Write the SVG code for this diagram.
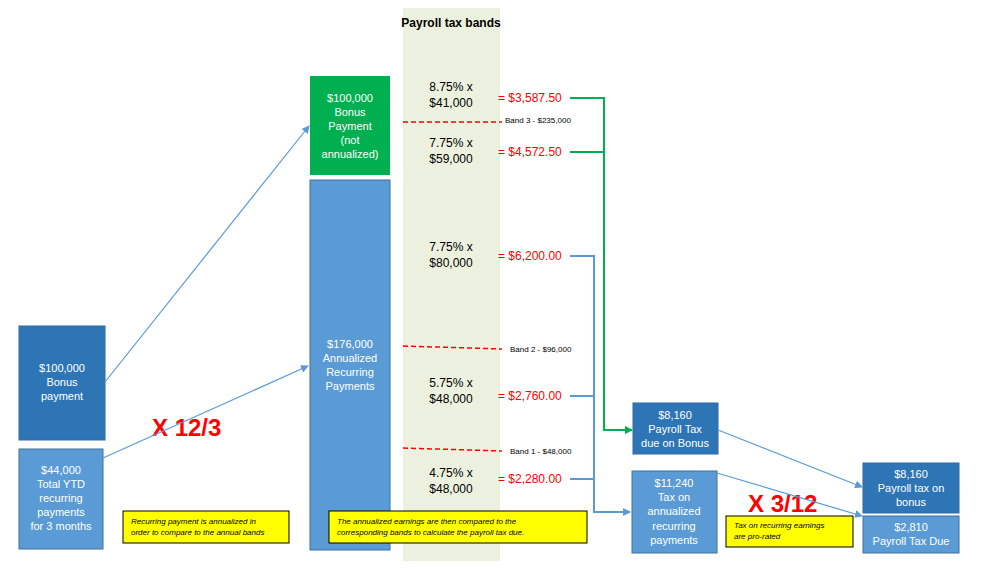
<svg xmlns="http://www.w3.org/2000/svg" width="991" height="569" viewBox="0 0 991 569">
<style>
text{font-family:"Liberation Sans",Arial,sans-serif;}
.w{fill:#fff;font-size:11px;text-anchor:middle}
.b{fill:#000;font-size:12px;text-anchor:middle}
.r{fill:#ff0000;font-size:12px}
.s{fill:#000;font-size:8px}
.n{fill:#000;font-size:8px;font-style:italic}
.note{fill:#ffff00;stroke:#000;stroke-width:1}
.dk{fill:#2e75b6;stroke:#2e6aa6;stroke-width:1}
.lt{fill:#5b9bd5;stroke:#41719c;stroke-width:1}
.dash{stroke:#ff0000;stroke-width:1.5;stroke-dasharray:5,3;fill:none}
.big{fill:#ff0000;font-size:24px;font-weight:bold}
</style>
<defs>
<marker id="ab" markerWidth="8" markerHeight="8" refX="7" refY="4" orient="auto" markerUnits="userSpaceOnUse"><path d="M0,0 L8,4 L0,8 z" fill="#5b9bd5"/></marker>
<marker id="ag" markerWidth="8" markerHeight="8" refX="7" refY="4" orient="auto" markerUnits="userSpaceOnUse"><path d="M0,0 L8,4 L0,8 z" fill="#00b050"/></marker>
</defs>
<rect width="991" height="569" fill="#fff"/>
<g id="bands">
<rect x="403" y="8" width="97" height="553" fill="#ebf1de"/>
<text x="451" y="27" style="font-size:12px;font-weight:bold;text-anchor:middle">Payroll tax bands</text>
<text class="b" x="451" y="91">8.75% x</text><text class="b" x="451" y="107">$41,000</text>
<text class="b" x="451" y="147">7.75% x</text><text class="b" x="451" y="163">$59,000</text>
<text class="b" x="451" y="251">7.75% x</text><text class="b" x="451" y="267">$80,000</text>
<text class="b" x="451" y="387">5.75% x</text><text class="b" x="451" y="403">$48,000</text>
<text class="b" x="451" y="477">4.75% x</text><text class="b" x="451" y="493">$48,000</text>
<text class="r" x="498" y="102">= $3,587.50</text>
<text class="r" x="498" y="156">= $4,572.50</text>
<text class="r" x="498" y="260">= $6,200.00</text>
<text class="r" x="498" y="400">= $2,760.00</text>
<text class="r" x="498" y="483">= $2,280.00</text>
<line class="dash" x1="403" y1="122" x2="502" y2="122"/>
<line class="dash" x1="403" y1="346" x2="502" y2="349"/>
<line class="dash" x1="403" y1="448" x2="502" y2="451"/>
<text class="s" x="505" y="123">Band 3 - $235,000</text>
<text class="s" x="510" y="352">Band 2 - $96,000</text>
<text class="s" x="510" y="454">Band 1 - $48,000</text>
</g>
<g id="bonus-payment"><rect class="dk" x="19" y="326" width="86" height="114"/>
<text class="w" x="62" y="372">$100,000</text><text class="w" x="62" y="386">Bonus</text><text class="w" x="62" y="400">payment</text></g>
<g id="ytd"><rect class="lt" x="19" y="449" width="84" height="100"/>
<text class="w" x="61" y="474">$44,000</text><text class="w" x="61" y="488">Total YTD</text><text class="w" x="61" y="502">recurring</text><text class="w" x="61" y="516">payments</text><text class="w" x="61" y="530">for 3 months</text></g>
<g id="bonus-na"><rect x="310" y="76" width="80" height="99" fill="#00b050"/>
<text class="w" x="350" y="102">$100,000</text><text class="w" x="350" y="116">Bonus</text><text class="w" x="350" y="130">Payment</text><text class="w" x="350" y="144">(not</text><text class="w" x="350" y="158">annualized)</text></g>
<g id="annualized"><rect class="lt" x="310" y="180" width="80" height="370"/>
<text class="w" x="350" y="348">$176,000</text><text class="w" x="350" y="362">Annualized</text><text class="w" x="350" y="376">Recurring</text><text class="w" x="350" y="390">Payments</text></g>
<g id="tax-bonus"><rect class="dk" x="633" y="403" width="85" height="51"/>
<text class="w" x="675" y="419">$8,160</text><text class="w" x="675" y="433">Payroll Tax</text><text class="w" x="675" y="447">due on Bonus</text></g>
<g id="tax-rec"><rect class="lt" x="632" y="471" width="85" height="82"/>
<text class="w" x="674" y="487">$11,240</text><text class="w" x="674" y="501">Tax on</text><text class="w" x="674" y="515">annualized</text><text class="w" x="674" y="530">recurring</text><text class="w" x="674" y="544">payments</text></g>
<g id="final-bonus"><rect class="dk" x="863" y="463" width="96" height="50"/>
<text class="w" x="911" y="478">$8,160</text><text class="w" x="911" y="492">Payroll tax on</text><text class="w" x="911" y="506">bonus</text></g>
<g id="final-due"><rect class="lt" x="863" y="516" width="96" height="37"/>
<text class="w" x="911" y="531">$2,810</text><text class="w" x="911" y="545">Payroll Tax Due</text></g>
<g id="labels">
<text class="big" x="152" y="436">X 12/3</text>
<text class="big" x="748" y="512">X 3/12</text>
<rect class="note" x="123" y="511" width="166" height="32"/>
<text class="n" x="131" y="524">Recurring payment is annualized in</text><text class="n" x="131" y="535">order to compare to the annual bands</text>
<rect class="note" x="329" y="511" width="258" height="32"/>
<text class="n" x="337" y="524">The annualized earnings are then compared to the</text><text class="n" x="337" y="535">corresponding bands to calculate the payroll tax due.</text>
<rect class="note" x="726" y="516" width="127" height="31"/>
<text class="n" x="734" y="528">Tax on recurring earnings</text><text class="n" x="734" y="539">are pro-rated</text>
</g>
<g id="connectors" fill="none">
<line x1="105" y1="382" x2="309" y2="126" stroke="#5b9bd5" stroke-width="1.2" marker-end="url(#ab)"/>
<line x1="103" y1="458" x2="308" y2="366" stroke="#5b9bd5" stroke-width="1.2" marker-end="url(#ab)"/>
<polyline points="570,98 604,98 604,430 632,430" stroke="#00b050" stroke-width="2" marker-end="url(#ag)"/>
<line x1="570" y1="152" x2="604" y2="152" stroke="#00b050" stroke-width="2"/>
<polyline points="570,256 594,256 594,512 630,512" stroke="#5b9bd5" stroke-width="2" marker-end="url(#ab)"/>
<line x1="570" y1="396" x2="594" y2="396" stroke="#5b9bd5" stroke-width="2"/>
<line x1="570" y1="479" x2="594" y2="479" stroke="#5b9bd5" stroke-width="2"/>
<line x1="718" y1="430" x2="862" y2="487" stroke="#5b9bd5" stroke-width="1.2" marker-end="url(#ab)"/>
<line x1="717" y1="473" x2="862" y2="516" stroke="#5b9bd5" stroke-width="1.2" marker-end="url(#ab)"/>
</g>
</svg>
